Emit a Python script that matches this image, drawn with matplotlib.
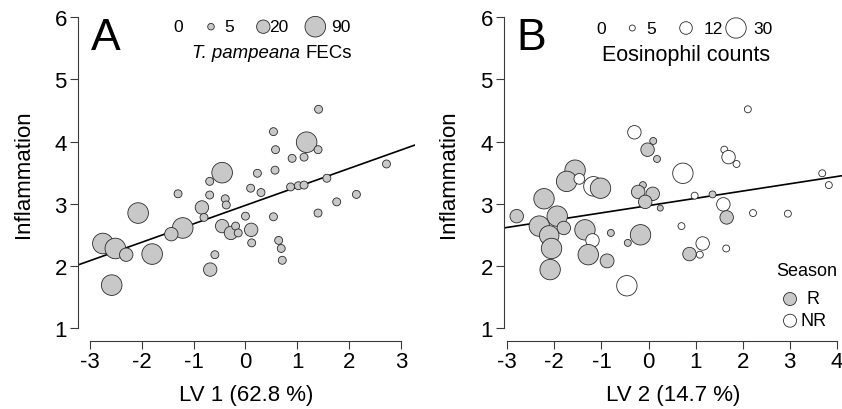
import matplotlib
matplotlib.use("Agg")
import matplotlib.pyplot as plt
import numpy as np

plt.rcParams['font.family'] = ['Liberation Sans', 'DejaVu Sans']

# Panel A: LV1 score, inflammation, T. pampeana FECs
lv1 = [-0.45, -0.69, -1.30, -0.69, -0.39, -0.37, -0.84, -0.80, 0.00, -2.07,
       -1.21, -1.43, -0.45, -0.28, -0.19, -0.14, 0.11, -2.75, -2.51, -2.30,
       -1.80, -0.59, -0.68, -2.58, 1.41, 0.54, 1.18, 0.58, 1.40, 0.90,
       1.13, 0.23, 0.57, 2.72, 0.10, 0.30, 0.87, 1.02, 1.13, 1.57,
       2.14, 1.76, 1.40, 0.54, 0.12, 0.64, 0.69, 0.71]
infl_a = [3.50, 3.36, 3.16, 3.14, 3.08, 2.98, 2.94, 2.78, 2.80, 2.85,
          2.61, 2.51, 2.64, 2.53, 2.64, 2.53, 2.58, 2.36, 2.28, 2.18,
          2.19, 2.18, 1.94, 1.69, 4.52, 4.16, 3.99, 3.87, 3.87, 3.73,
          3.75, 3.49, 3.54, 3.64, 3.25, 3.18, 3.27, 3.29, 3.30, 3.41,
          3.15, 3.03, 2.85, 2.79, 2.37, 2.41, 2.28, 2.09]
fec = [90, 8, 8, 8, 8, 8, 20, 8, 8, 90,
       90, 20, 20, 20, 8, 8, 20, 90, 90, 20,
       90, 8, 20, 90, 8, 8, 90, 8, 8, 8,
       8, 8, 8, 8, 8, 8, 8, 8, 8, 8,
       8, 8, 8, 8, 8, 8, 8, 8]

# Panel B: LV2 score, inflammation, eosinophil counts, season
lv2 = [-0.30, 0.10, -0.02, 0.18, -1.56, -1.74, -1.47, -1.17, -1.02, -0.12,
       -0.22, 0.09, -0.07, 0.25, -2.22, -2.80, -1.94, -2.32, -1.80, -2.11,
       -1.35, -1.19, -0.80, -0.17, -0.44, -2.06, -1.28, -0.88, -2.09, -0.46,
       2.11, 1.61, 1.70, 1.87, 0.73, 3.69, 3.83, 0.98, 1.36, 1.59,
       1.66, 2.22, 2.96, 0.70, 1.15, 1.09, 0.87, 1.65]
infl_b = [4.15, 4.01, 3.87, 3.72, 3.54, 3.36, 3.40, 3.28, 3.25, 3.30,
          3.19, 3.16, 3.03, 2.93, 3.08, 2.80, 2.80, 2.64, 2.61, 2.49,
          2.58, 2.41, 2.53, 2.50, 2.37, 2.28, 2.18, 2.08, 1.94, 1.68,
          4.52, 3.87, 3.75, 3.64, 3.49, 3.49, 3.30, 3.13, 3.15, 2.99,
          2.78, 2.85, 2.84, 2.64, 2.36, 2.18, 2.19, 2.28]
eos = [14, 6, 14, 6, 30, 30, 10, 28, 30, 6,
       14, 14, 14, 5, 30, 14, 30, 30, 14, 28,
       30, 14, 6, 30, 6, 30, 30, 15, 30, 30,
       6, 6, 14, 6, 30, 6, 6, 6, 6, 14,
       14, 6, 6, 6, 14, 6, 14, 6]
season = ['NR', 'R', 'R', 'R', 'R', 'R', 'NR', 'NR', 'R', 'R',
          'R', 'R', 'R', 'R', 'R', 'R', 'R', 'R', 'R', 'R',
          'R', 'NR', 'R', 'R', 'R', 'R', 'R', 'R', 'R', 'NR',
          'NR', 'NR', 'NR', 'NR', 'NR', 'NR', 'NR', 'NR', 'R', 'NR',
          'R', 'NR', 'NR', 'NR', 'NR', 'NR', 'R', 'NR']

# fitted lines (intercept, slope)
fit_a = (2.974, 0.297)
fit_b = (2.97, 0.117)

# size legends
fec_keys = [0, 5, 20, 90]
fec_radius = [0, 3.3, 6.7, 10.3]
eos_keys = [0, 5, 12, 30]
eos_radius = [0, 3.0, 6.3, 10.2]

W, H = 842, 410
GREY = '#c8c8c8'
EDGE = '#2a2a2a'
AXC = '#3a3a3a'


def marker_area(values, keys, radii):
    r_px = np.interp(values, keys, radii)
    return (2 * r_px * 0.72) ** 2


def px_axes(fig, left, right, top, bottom):
    return fig.add_axes([left / W, 1 - bottom / H, (right - left) / W, (bottom - top) / H])


def style_axes(ax, xlim, xticks, xlabel, ylab_x):
    ax.set_xlim(*xlim)
    ax.set_ylim(0.786, 6.2)
    for s in ['top', 'right']:
        ax.spines[s].set_visible(False)
    ax.spines['left'].set_bounds(1, 6)
    ax.spines['bottom'].set_bounds(xticks[0], xticks[-1])
    for s in ['left', 'bottom']:
        ax.spines[s].set_linewidth(0.8)
        ax.spines[s].set_color(AXC)
    ax.set_xticks(xticks)
    ax.set_yticks([1, 2, 3, 4, 5, 6])
    ax.set_xticklabels([str(t) for t in xticks])
    ax.tick_params(direction='out', length=6, width=0.8, color=AXC, labelsize=16)
    ax.tick_params(axis='x', pad=1)
    ax.tick_params(axis='y', pad=2)
    ax.set_ylabel('Inflammation', fontsize=16)
    ax.yaxis.set_label_coords(ylab_x, 0.5)
    ax.set_xlabel(xlabel, fontsize=16)
    ax.xaxis.set_label_coords(0.5, -0.128)
    ax.patch.set_alpha(0)


fig = plt.figure(figsize=(W / 100, H / 100), dpi=100)

# panel A
ax1 = px_axes(fig, 78, 415, 5.9, 342.3)
style_axes(ax1, (-3.23, 3.27), [-3, -2, -1, 0, 1, 2, 3], 'LV 1 (62.8 %)', -0.131)
xs = np.array(ax1.get_xlim())
ax1.plot(xs, fit_a[0] + fit_a[1] * xs, color='black', lw=1.2, zorder=1)
ax1.scatter(lv1, infl_a, s=marker_area(fec, fec_keys, fec_radius),
            facecolor=GREY, edgecolor=EDGE, linewidth=0.6, zorder=2, clip_on=False)

# panel B
ax2 = px_axes(fig, 504, 842, 5.9, 342.3)
style_axes(ax2, (-3.07, 4.11), [-3, -2, -1, 0, 1, 2, 3, 4], 'LV 2 (14.7 %)', -0.133)
xs = np.array(ax2.get_xlim())
ax2.plot(xs, fit_b[0] + fit_b[1] * xs, color='black', lw=1.2, zorder=1)
fills = [GREY if s == 'R' else 'white' for s in season]
ax2.scatter(lv2, infl_b, s=marker_area(eos, eos_keys, eos_radius),
            facecolor=fills, edgecolor=EDGE, linewidth=0.6, zorder=2, clip_on=False)

# overlay in pixel coordinates for letters and legends
ov = fig.add_axes([0, 0, 1, 1])
ov.set_xlim(0, W)
ov.set_ylim(H, 0)
ov.axis('off')

ov.text(106, 38, 'A', fontsize=32, ha='center', va='center')
ov.text(531.7, 38, 'B', fontsize=32, ha='center', va='center')

# FEC size legend
ov.scatter([211, 263.3, 315.3], [27.7] * 3, s=marker_area(fec_keys[1:], fec_keys, fec_radius),
           facecolor=GREY, edgecolor=EDGE, linewidth=0.6)
for k, x in zip(fec_keys, [178.3, 229, 278.5, 340.5]):
    ov.text(x, 28, str(k), fontsize=12.5, ha='center', va='center')
ov.text(192, 53.3, 'T. pampeana', fontsize=13.4, fontstyle='italic', ha='left', va='center')
ov.text(352, 53.3, 'FECs', fontsize=13.4, ha='right', va='center')

# eosinophil size legend
ov.scatter([632.3, 686, 736], [29] * 3, s=marker_area(eos_keys[1:], eos_keys, eos_radius),
           facecolor='white', edgecolor=EDGE, linewidth=0.6)
for k, x in zip(eos_keys, [600.7, 651, 713.3, 762.7]):
    ov.text(x, 29, str(k), fontsize=12.5, ha='center', va='center')
ov.text(686, 55, 'Eosinophil counts', fontsize=15.5, ha='center', va='center')

# season legend
ov.text(806.7, 271.7, 'Season', fontsize=13, ha='center', va='center')
ov.scatter([790, 790], [300, 321.7], s=(2 * 6.5 * 0.72) ** 2,
           facecolor=[GREY, 'white'], edgecolor=EDGE, linewidth=0.6)
ov.text(807, 300, 'R', fontsize=13, ha='left', va='center')
ov.text(800, 321.7, 'NR', fontsize=13, ha='left', va='center')

fig.savefig('out.png', dpi=100)
